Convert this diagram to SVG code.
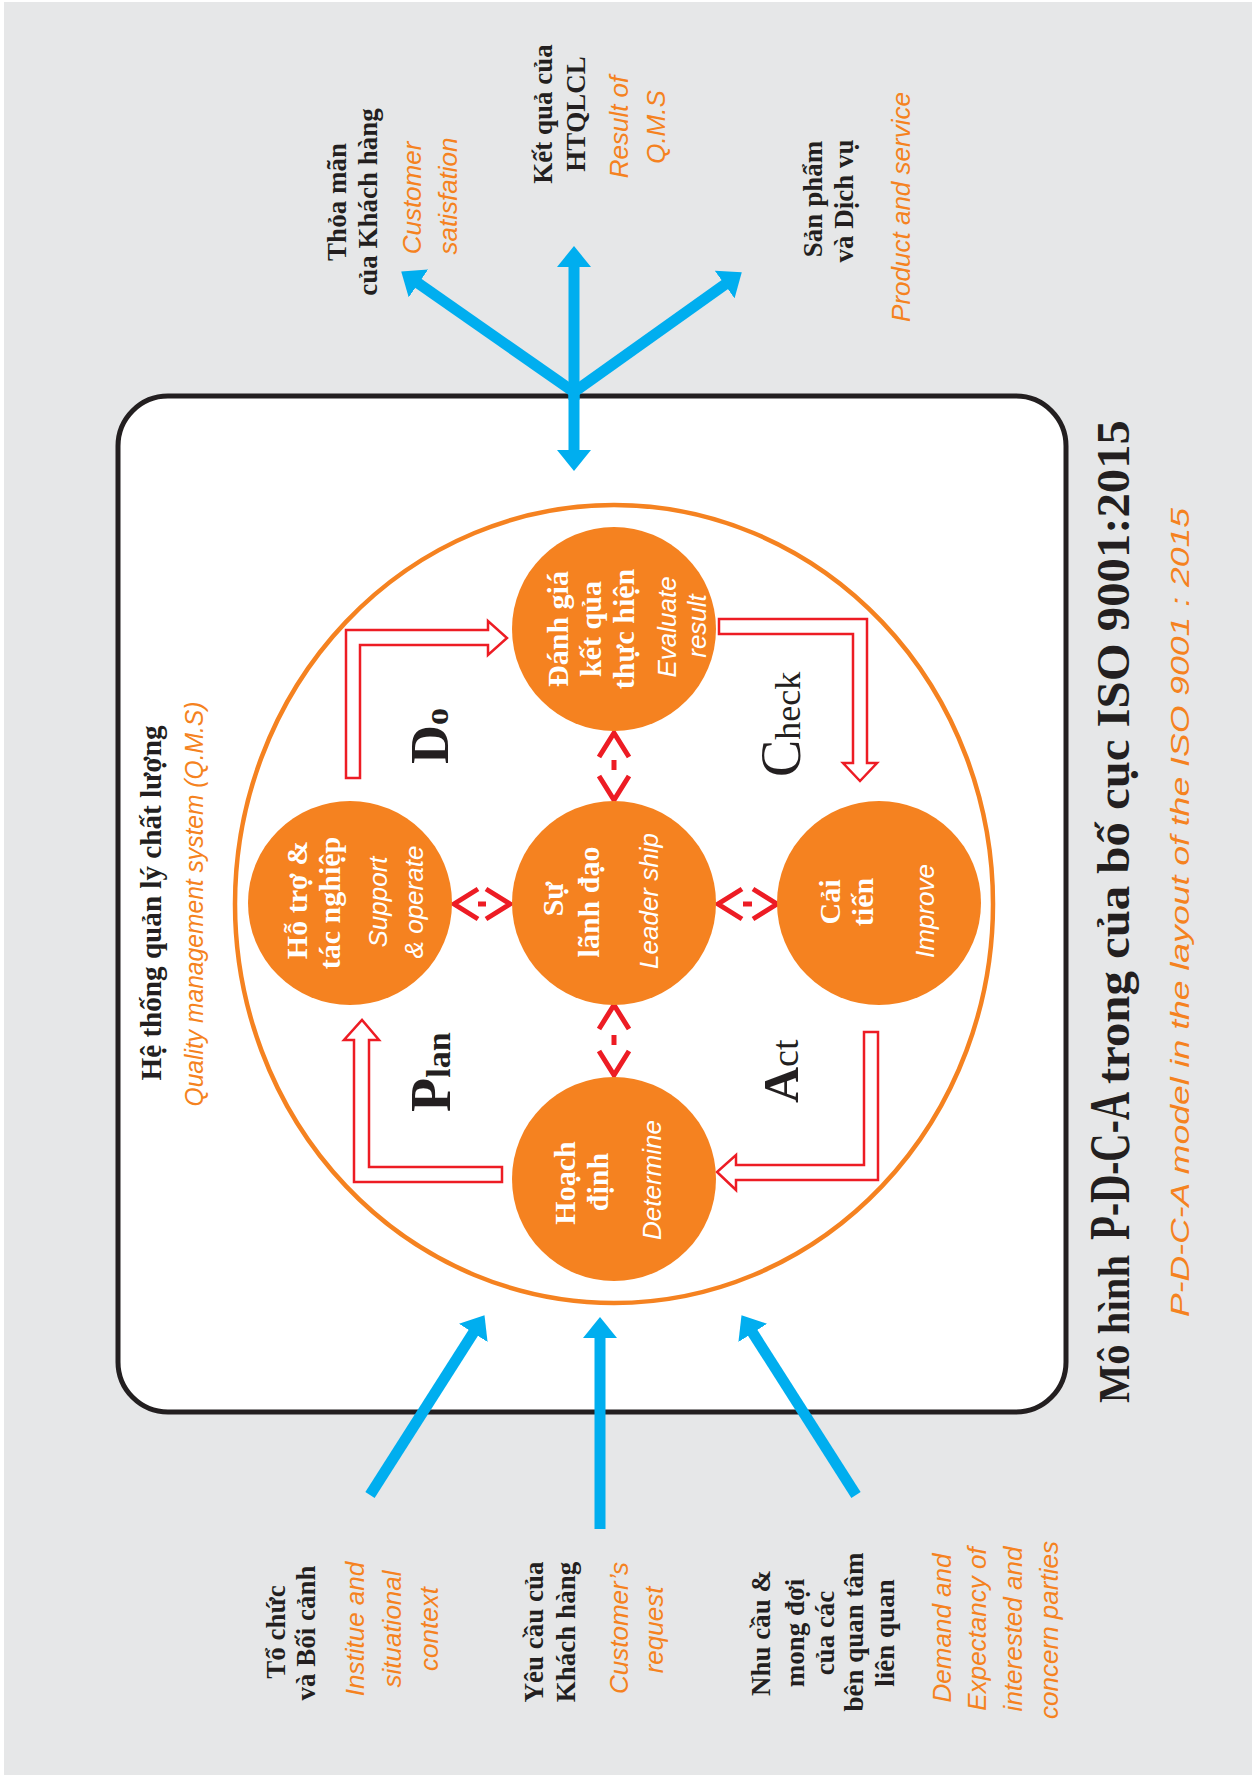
<svg xmlns="http://www.w3.org/2000/svg" width="1252" height="1775" viewBox="0 0 1252 1775">
<defs>
<style>
.bg{fill:#e6e7e8}
.sb{font-family:"Liberation Serif","Times New Roman",serif;font-weight:bold;fill:#231f20}
.sr{font-family:"Liberation Serif","Times New Roman",serif;fill:#231f20}
.wb{font-family:"Liberation Serif","Times New Roman",serif;font-weight:bold;fill:#ffffff;font-size:30px}
.wi{font-family:"Liberation Sans",Arial,sans-serif;font-style:italic;fill:#ffffff;font-size:26px}
.oi{font-family:"Liberation Sans",Arial,sans-serif;font-style:italic;fill:#f58220;font-size:26px}
.lb{font-size:27px}
.node{fill:#f58220}
.blue{stroke:#00aeef;stroke-width:11;fill:none}
.redl{fill:#ffffff;stroke:#ed1c24;stroke-width:2.5;stroke-linejoin:miter}
.chev{fill:none;stroke:#ed1c24;stroke-width:5;stroke-linecap:butt;stroke-linejoin:miter}
</style>
<marker id="bh" markerUnits="userSpaceOnUse" markerWidth="22" markerHeight="34" viewBox="0 0 22 34" refX="2" refY="17" orient="auto">
<path d="M0,0 L21,17 L0,34 z" fill="#00aeef"/>
</marker>
</defs>
<rect x="0" y="0" width="1252" height="1775" fill="#ffffff"/>
<rect class="bg" x="4" y="2" width="1248" height="1773"/>

<rect id="qms-box" x="118" y="396" width="948" height="1016" rx="50" ry="50" fill="#ffffff" stroke="#231f20" stroke-width="5"/>

<ellipse id="qms-ring" cx="614" cy="904" rx="379" ry="399" fill="none" stroke="#f58220" stroke-width="4.5"/>

<g id="qms-label">
<text class="sb" font-size="30" transform="translate(161,903) rotate(-90)" text-anchor="middle" textLength="355" lengthAdjust="spacingAndGlyphs">Hệ thống quản lý chất lượng</text>
<text class="oi" font-size="25" transform="translate(203,904) rotate(-90)" text-anchor="middle" textLength="405" lengthAdjust="spacingAndGlyphs">Quality management system (Q.M.S)</text>
</g>

<g id="connectors">
<g id="blue-out">
<line class="blue" x1="574" y1="392" x2="574" y2="452" marker-end="url(#bh)"/>
<line class="blue" x1="574" y1="400" x2="574" y2="265" marker-end="url(#bh)"/>
<line class="blue" x1="574" y1="392" x2="416.8" y2="282.3" marker-end="url(#bh)"/>
<line class="blue" x1="574" y1="392" x2="726.3" y2="283.4" marker-end="url(#bh)"/>
</g>
<g id="blue-in">
<line class="blue" x1="370" y1="1495" x2="474.3" y2="1331.2" marker-end="url(#bh)"/>
<line class="blue" x1="600" y1="1529" x2="600" y2="1336" marker-end="url(#bh)"/>
<line class="blue" x1="856" y1="1495" x2="751.7" y2="1331.2" marker-end="url(#bh)"/>
</g>
<g id="cycle-arrows">
<polygon class="redl" points="346,778 346,630 488,630 488,621 507,638 488,655 488,645 360,645 360,778"/>
<polygon class="redl" points="719,619 867,619 867,763 877,763 860,781 843,763 853,763 853,634 719,634"/>
<polygon class="redl" points="864,1032 878,1032 878,1180 736,1180 736,1190 717,1172 736,1155 736,1165 864,1165"/>
<polygon class="redl" points="502,1167 369,1167 369,1040 379,1040 362,1020 344,1040 354,1040 354,1182 502,1182"/>
</g>
<g id="leader-links">
<polyline class="chev" points="599,757 614,733 629,757"/>
<line class="chev" x1="614" y1="760" x2="614" y2="770"/>
<polyline class="chev" points="599,776 614,800 629,776"/>
<polyline class="chev" points="599,1029 614,1005 629,1029"/>
<line class="chev" x1="614" y1="1035" x2="614" y2="1045"/>
<polyline class="chev" points="599,1051 614,1075 629,1051"/>
<polyline class="chev" points="478,889 454,904 478,919"/>
<line class="chev" x1="478" y1="904" x2="486" y2="904"/>
<polyline class="chev" points="486,889 510,904 486,919"/>
<polyline class="chev" points="742,889 718,904 742,919"/>
<line class="chev" x1="743" y1="904" x2="752" y2="904"/>
<polyline class="chev" points="753,889 777,904 753,919"/>
</g>
</g>

<g id="node-check-eval">
<circle class="node" cx="614" cy="629" r="102"/>
<text class="wb" transform="translate(568,629) rotate(-90)" text-anchor="middle">Đánh giá</text>
<text class="wb" transform="translate(601,629) rotate(-90)" text-anchor="middle">kết qủa</text>
<text class="wb" transform="translate(634,629) rotate(-90)" text-anchor="middle">thực hiện</text>
<text class="wi" transform="translate(676,627) rotate(-90)" text-anchor="middle">Evaluate</text>
<text class="wi" transform="translate(706,626) rotate(-90)" text-anchor="middle">result</text>
</g>

<g id="node-support">
<circle class="node" cx="350" cy="903" r="102"/>
<text class="wb" transform="translate(307,900) rotate(-90)" text-anchor="middle">Hỗ trợ &amp;</text>
<text class="wb" transform="translate(340,903) rotate(-90)" text-anchor="middle">tác nghiệp</text>
<text class="wi" transform="translate(387,902) rotate(-90)" text-anchor="middle">Support</text>
<text class="wi" transform="translate(423,902) rotate(-90)" text-anchor="middle">&amp; operate</text>
</g>

<g id="node-leadership">
<circle class="node" cx="614" cy="903" r="102"/>
<text class="wb" transform="translate(563,899) rotate(-90)" text-anchor="middle">Sự</text>
<text class="wb" transform="translate(599,902) rotate(-90)" text-anchor="middle">lãnh đạo</text>
<text class="wi" transform="translate(658,901) rotate(-90)" text-anchor="middle">Leader ship</text>
</g>

<g id="node-improve">
<circle class="node" cx="879" cy="903" r="102"/>
<text class="wb" transform="translate(840,902) rotate(-90)" text-anchor="middle">Cải</text>
<text class="wb" transform="translate(873,902) rotate(-90)" text-anchor="middle">tiến</text>
<text class="wi" transform="translate(934,911) rotate(-90)" text-anchor="middle">Improve</text>
</g>

<g id="node-plan">
<circle class="node" cx="614" cy="1179" r="102"/>
<text class="wb" transform="translate(575,1183) rotate(-90)" text-anchor="middle">Hoạch</text>
<text class="wb" transform="translate(608,1182) rotate(-90)" text-anchor="middle">định</text>
<text class="wi" transform="translate(661,1180) rotate(-90)" text-anchor="middle">Determine</text>
</g>

<g id="pdca-labels">
<text class="sb" transform="translate(450,1112) rotate(-90)"><tspan font-size="56">P</tspan><tspan font-size="34">lan</tspan></text>
<text class="sb" transform="translate(448,764) rotate(-90)"><tspan font-size="54">D</tspan><tspan font-size="34">o</tspan></text>
<text class="sr" transform="translate(800,777) rotate(-90)"><tspan font-size="56">C</tspan><tspan font-size="36">heck</tspan></text>
<text class="sr" transform="translate(798,1103) rotate(-90)"><tspan font-size="50" font-weight="bold">A</tspan><tspan font-size="38">ct</tspan></text>
</g>

<g id="outputs">
<g id="out-satisfaction">
<text class="sb lb" transform="translate(346,202) rotate(-90)" text-anchor="middle">Thỏa mãn</text>
<text class="sb lb" transform="translate(377,202) rotate(-90)" text-anchor="middle">của Khách hàng</text>
<text class="oi" transform="translate(421,198) rotate(-90)" text-anchor="middle">Customer</text>
<text class="oi" transform="translate(457,196) rotate(-90)" text-anchor="middle">satisfation</text>
</g>
<g id="out-result">
<text class="sb lb" transform="translate(552,114) rotate(-90)" text-anchor="middle">Kết quả của</text>
<text class="sb lb" transform="translate(585,114) rotate(-90)" text-anchor="middle">HTQLCL</text>
<text class="oi" transform="translate(628,127) rotate(-90)" text-anchor="middle">Result of</text>
<text class="oi" transform="translate(665,127) rotate(-90)" text-anchor="middle">Q.M.S</text>
</g>
<g id="out-product">
<text class="sb lb" transform="translate(822,199) rotate(-90)" text-anchor="middle">Sản phẩm</text>
<text class="sb lb" transform="translate(853,201) rotate(-90)" text-anchor="middle">và Dịch vụ</text>
<text class="oi" transform="translate(910,207) rotate(-90)" text-anchor="middle">Product and service</text>
</g>
</g>

<g id="inputs">
<g id="in-context">
<text class="sb lb" transform="translate(285,1632) rotate(-90)" text-anchor="middle">Tổ chức</text>
<text class="sb lb" transform="translate(315,1633) rotate(-90)" text-anchor="middle">và Bối cảnh</text>
<text class="oi" transform="translate(364,1629) rotate(-90)" text-anchor="middle">Institue and</text>
<text class="oi" transform="translate(401,1629) rotate(-90)" text-anchor="middle">situational</text>
<text class="oi" transform="translate(438,1629) rotate(-90)" text-anchor="middle">context</text>
</g>
<g id="in-request">
<text class="sb lb" transform="translate(543,1632) rotate(-90)" text-anchor="middle">Yêu cầu của</text>
<text class="sb lb" transform="translate(575,1632) rotate(-90)" text-anchor="middle">Khách hàng</text>
<text class="oi" transform="translate(628,1628) rotate(-90)" text-anchor="middle">Customer’s</text>
<text class="oi" transform="translate(663,1630) rotate(-90)" text-anchor="middle">request</text>
</g>
<g id="in-parties">
<text class="sb lb" transform="translate(770,1633) rotate(-90)" text-anchor="middle">Nhu cầu &amp;</text>
<text class="sb lb" transform="translate(804,1633) rotate(-90)" text-anchor="middle">mong đợi</text>
<text class="sb lb" transform="translate(834,1633) rotate(-90)" text-anchor="middle">của các</text>
<text class="sb lb" transform="translate(863,1632) rotate(-90)" text-anchor="middle">bên quan tâm</text>
<text class="sb lb" transform="translate(894,1633) rotate(-90)" text-anchor="middle">liên quan</text>
<text class="oi" transform="translate(951,1628) rotate(-90)" text-anchor="middle">Demand and</text>
<text class="oi" transform="translate(986,1629) rotate(-90)" text-anchor="middle">Expectancy of</text>
<text class="oi" transform="translate(1022,1629) rotate(-90)" text-anchor="middle">interested and</text>
<text class="oi" transform="translate(1058,1630) rotate(-90)" text-anchor="middle">concern parties</text>
</g>
</g>

<g id="title">
<text class="sb" font-size="44" transform="translate(1129,1403) rotate(-90)" textLength="148" lengthAdjust="spacingAndGlyphs">Mô hình</text>
<text class="sb" font-size="56" transform="translate(1129,1240) rotate(-90)" textLength="148" lengthAdjust="spacingAndGlyphs">P-D-C-A</text>
<text class="sb" font-size="46" transform="translate(1129,1084) rotate(-90)" textLength="664" lengthAdjust="spacingAndGlyphs">trong của bố cục ISO 9001:2015</text>
<text class="oi" font-size="38" transform="translate(1189,1317) rotate(-90)" textLength="809" lengthAdjust="spacingAndGlyphs">P-D-C-A model in the layout of the ISO 9001 : 2015</text>
</g>
</svg>
